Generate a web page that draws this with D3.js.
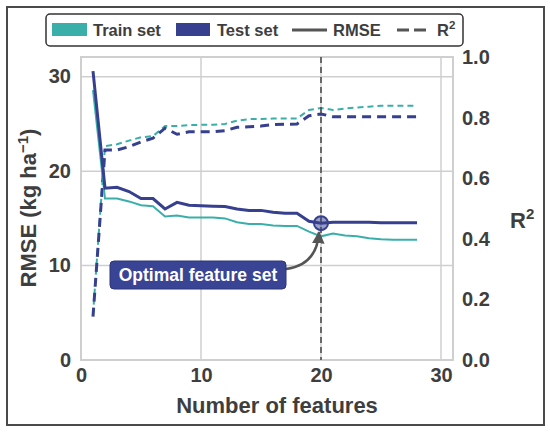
<!DOCTYPE html>
<html>
<head>
<meta charset="utf-8">
<script src="https://cdn.jsdelivr.net/npm/d3@7"></script>
<style>
  body { margin: 0; background: #fff; }
  svg text { font-family: "Liberation Sans", Arial, sans-serif; font-weight: bold; fill: #3e3e3e; }
</style>
</head>
<body>
<svg id="chart" width="550" height="433"></svg>
<script>
// number of selected features
const features = d3.range(1, 29);

// RMSE (kg ha-1)
const rmseTrain = [28.6, 17.1, 17.1, 16.8, 16.4, 16.3, 15.2, 15.3, 15.1, 15.1,
                   15.1, 15.0, 14.6, 14.4, 14.4, 14.25, 14.2, 14.2, 13.6, 13.1,
                   13.4, 13.2, 13.1, 12.9, 12.8, 12.75, 12.75, 12.75];
const rmseTest = [30.6, 18.2, 18.3, 17.85, 17.1, 17.1, 16.0, 16.7, 16.4, 16.35,
                  16.3, 16.25, 16.0, 15.85, 15.85, 15.65, 15.55, 15.55, 14.7, 14.5,
                  14.6, 14.6, 14.6, 14.6, 14.55, 14.55, 14.55, 14.55];

// R2
const r2Train = [0.15, 0.706, 0.712, 0.724, 0.735, 0.739, 0.772, 0.772, 0.775, 0.776,
                 0.776, 0.779, 0.79, 0.795, 0.795, 0.797, 0.797, 0.797, 0.825, 0.832,
                 0.825, 0.83, 0.833, 0.836, 0.839, 0.839, 0.839, 0.839];
const r2Test = [0.143, 0.693, 0.693, 0.704, 0.72, 0.732, 0.765, 0.745, 0.753, 0.753,
                0.753, 0.757, 0.768, 0.77, 0.772, 0.777, 0.778, 0.779, 0.806, 0.812,
                0.803, 0.803, 0.803, 0.803, 0.803, 0.803, 0.803, 0.803];

const xTicks = [0, 10, 20, 30];
const rmseTicks = [0, 10, 20, 30];
const r2Ticks = [0, 0.2, 0.4, 0.6, 0.8, 1.0];
const optimalN = 20;

const teal = "#3aafaa";
const navy = "#36408f";

const svg = d3.select("#chart");

// outer frame
svg.append("rect")
    .attr("x", 7).attr("y", 7).attr("width", 537).attr("height", 418)
    .attr("fill", "none").attr("stroke", "#4a4a4a").attr("stroke-width", 2);

const pLeft = 81, pRight = 453, pTop = 57, pBottom = 360;

const x = d3.scaleLinear().domain([0, 31]).range([pLeft, pRight]);
const yL = d3.scaleLinear().domain([0, 32.1]).range([pBottom, pTop]);
const yR = d3.scaleLinear().domain([0, 1]).range([pBottom, pTop]);

// grid
const grid = svg.append("g").attr("stroke", "#cfcfcf").attr("stroke-width", 1.5);
grid.selectAll("line.v")
    .data(xTicks.filter(d => d > 0))
    .join("line")
    .attr("x1", d => x(d)).attr("x2", d => x(d))
    .attr("y1", pTop).attr("y2", pBottom);
grid.selectAll("line.h")
    .data(rmseTicks.filter(d => d > 0))
    .join("line")
    .attr("x1", pLeft).attr("x2", pRight)
    .attr("y1", d => yL(d)).attr("y2", d => yL(d));

svg.append("rect")
    .attr("x", pLeft).attr("y", pTop).attr("width", pRight - pLeft).attr("height", pBottom - pTop)
    .attr("fill", "none").attr("stroke", "#cfcfcf").attr("stroke-width", 2);

// axes (labels only, no tick marks)
const xAxis = svg.append("g")
    .attr("transform", `translate(0,${pBottom})`)
    .call(d3.axisBottom(x).tickValues(xTicks).tickSize(0).tickPadding(10));
const yAxisL = svg.append("g")
    .attr("transform", `translate(${pLeft},0)`)
    .call(d3.axisLeft(yL).tickValues(rmseTicks).tickSize(0).tickPadding(10));
const yAxisR = svg.append("g")
    .attr("transform", `translate(${pRight},0)`)
    .call(d3.axisRight(yR).tickValues(r2Ticks).tickFormat(d3.format(".1f")).tickSize(0).tickPadding(9));
[xAxis, yAxisL, yAxisR].forEach(a => {
    a.select(".domain").remove();
    a.selectAll("text").style("font-size", "20px").attr("fill", "#3e3e3e")
        .style("font-family", "'Liberation Sans', Arial, sans-serif").style("font-weight", "bold");
});
yAxisL.selectAll("text").attr("dy", "0.3em");
xAxis.selectAll("text").attr("dy", "0.6em");

// axis titles
svg.append("text")
    .attr("x", (pLeft + pRight) / 2 + 10).attr("y", 413)
    .attr("text-anchor", "middle").style("font-size", "22px")
    .text("Number of features");

const yt = svg.append("text")
    .attr("transform", "translate(36,208) rotate(-90)")
    .attr("text-anchor", "middle").style("font-size", "22px");
yt.append("tspan").text("RMSE (kg ha");
yt.append("tspan").attr("dy", -8).style("font-size", "15px").text("\u22121");
yt.append("tspan").attr("dy", 8).text(")");

const rt = svg.append("text")
    .attr("x", 510).attr("y", 228).style("font-size", "22px");
rt.append("tspan").text("R");
rt.append("tspan").attr("dy", -9).style("font-size", "15px").text("2");

// lines
const lineL = vals => d3.line().x((d, i) => x(features[i])).y(d => yL(d))(vals);
const lineR = vals => d3.line().x((d, i) => x(features[i])).y(d => yR(d))(vals);

const plot = svg.append("g").attr("fill", "none");
plot.append("path").attr("d", lineR(r2Train))
    .attr("stroke", teal).attr("stroke-width", 2).attr("stroke-dasharray", "6,4");
plot.append("path").attr("d", lineR(r2Test))
    .attr("stroke", navy).attr("stroke-width", 3).attr("stroke-dasharray", "9,6");
plot.append("path").attr("d", lineL(rmseTrain))
    .attr("stroke", teal).attr("stroke-width", 2);
plot.append("path").attr("d", lineL(rmseTest))
    .attr("stroke", navy).attr("stroke-width", 3);

// optimal feature line and marker
svg.append("line")
    .attr("x1", x(optimalN)).attr("x2", x(optimalN))
    .attr("y1", pTop).attr("y2", pBottom)
    .attr("stroke", "#444").attr("stroke-width", 1.5).attr("stroke-dasharray", "6,4");

const optVal = rmseTest[features.indexOf(optimalN)];
svg.append("circle")
    .attr("cx", x(optimalN)).attr("cy", yL(optVal)).attr("r", 7)
    .attr("fill", navy).attr("fill-opacity", 0.5)
    .attr("stroke", navy).attr("stroke-width", 2);

// annotation
svg.append("defs").append("marker")
    .attr("id", "arrow").attr("viewBox", "0 0 10 10")
    .attr("refX", 9).attr("refY", 5).attr("markerWidth", 5).attr("markerHeight", 5)
    .attr("orient", "auto")
    .append("path").attr("d", "M0,0 L10,5 L0,10 z").attr("fill", "#555");

const bx = 110, by = 261, bw = 176, bh = 28;
svg.append("path")
    .attr("d", `M${bx + bw},${by + 8} Q${x(optimalN) - 4},${by + 4} ${x(optimalN) - 2},${yL(optVal) + 9}`)
    .attr("fill", "none").attr("stroke", "#555").attr("stroke-width", 2.5)
    .attr("marker-end", "url(#arrow)");
svg.append("rect")
    .attr("x", bx).attr("y", by).attr("width", bw).attr("height", bh).attr("rx", 4)
    .attr("fill", "#3a4494").attr("stroke", "#2c3478").attr("stroke-width", 1);
svg.append("text")
    .attr("x", bx + bw / 2).attr("y", by + bh / 2 + 6)
    .attr("text-anchor", "middle").style("font-size", "17.5px").style("fill", "#fff")
    .text("Optimal feature set");

// legend
const lg = svg.append("g");
lg.append("rect")
    .attr("x", 46).attr("y", 14).attr("width", 417).attr("height", 32).attr("rx", 4)
    .attr("fill", "#fff").attr("stroke", "#333").attr("stroke-width", 1.5);
lg.append("rect").attr("x", 52).attr("y", 23).attr("width", 35).attr("height", 13).attr("fill", teal);
lg.append("rect").attr("x", 176).attr("y", 23).attr("width", 34).attr("height", 13).attr("fill", navy);
lg.append("line").attr("x1", 292).attr("x2", 327).attr("y1", 30).attr("y2", 30)
    .attr("stroke", "#555").attr("stroke-width", 3);
lg.append("line").attr("x1", 397).attr("x2", 429).attr("y1", 30).attr("y2", 30)
    .attr("stroke", "#555").attr("stroke-width", 3).attr("stroke-dasharray", "12,5");
const lt = (tx, s) => lg.append("text").attr("x", tx).attr("y", 36).style("font-size", "16.5px").text(s);
lt(93, "Train set");
lt(217, "Test set");
lt(333, "RMSE");
const r2l = lg.append("text").attr("x", 437).attr("y", 36).style("font-size", "16.5px");
r2l.append("tspan").text("R");
r2l.append("tspan").attr("dy", -7).style("font-size", "11.5px").text("2");
</script>
</body>
</html>
